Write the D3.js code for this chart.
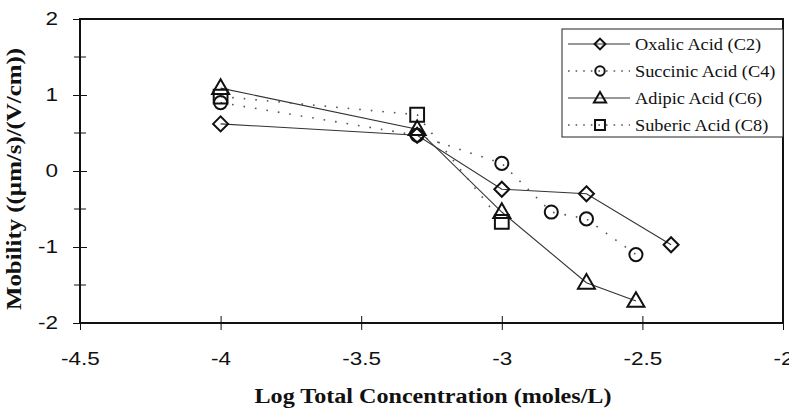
<!DOCTYPE html>
<html><head><meta charset="utf-8">
<script src="https://cdn.jsdelivr.net/npm/d3@7"></script>
<style>body{margin:0;background:#fff}svg{display:block}</style>
</head><body><svg id="c" width="789" height="410"></svg>
<script>
const xTicks = [-4.5, -4, -3.5, -3, -2.5, -2];
const yTicks = [-2, -1, 0, 1, 2];
const yMinor = [-1.5, -0.5, 0.5, 1.5];
const seriesNames = ["Oxalic Acid (C2)", "Succinic Acid (C4)", "Adipic Acid (C6)", "Suberic Acid (C8)"];
const oxalicX = [-4, -3.301, -3, -2.699, -2.398];
const oxalicY = [0.62, 0.47, -0.24, -0.30, -0.97];
const succinicX = [-4, -3.301, -3, -2.824, -2.699, -2.523];
const succinicY = [0.90, 0.47, 0.10, -0.54, -0.63, -1.10];
const adipicX = [-4, -3.301, -3, -2.699, -2.523];
const adipicY = [1.09, 0.55, -0.54, -1.47, -1.71];
const subericX = [-4, -3.301, -3];
const subericY = [0.98, 0.74, -0.67];

const series = [
  {name: seriesNames[0], xs: oxalicX, ys: oxalicY, sym: "diamond", dash: null},
  {name: seriesNames[1], xs: succinicX, ys: succinicY, sym: "circle", dash: "1.6,10"},
  {name: seriesNames[2], xs: adipicX, ys: adipicY, sym: "triangle", dash: null},
  {name: seriesNames[3], xs: subericX, ys: subericY, sym: "square", dash: "1.6,10"}
];

const L = 80, R = 783, T = 19, B = 323;
const x = d3.scaleLinear().domain([-4.5, -2]).range([L, R]);
const y = d3.scaleLinear().domain([-2, 2]).range([B, T]);
const svg = d3.select("#c");
const SANS = "Liberation Sans, Arial, sans-serif";
const SERIF = "Liberation Serif, Times New Roman, serif";

function stretch(sel, factor) {
  sel.each(function () {
    const w = this.getComputedTextLength();
    d3.select(this).attr("textLength", w * factor).attr("lengthAdjust", "spacingAndGlyphs");
  });
}

// frame
svg.append("rect").attr("x", L).attr("y", T).attr("width", R - L).attr("height", B - T)
  .attr("fill", "none").attr("stroke", "#111").attr("stroke-width", 2);

// y axis
const yAx = svg.append("g").attr("transform", `translate(${L},0)`)
  .call(d3.axisLeft(y).tickValues(yTicks).tickFormat(d => String(d)).tickSize(7).tickPadding(15));
yAx.select(".domain").remove();
yAx.selectAll(".tick line").attr("x2", 7).attr("x1", -7).attr("stroke", "#111");
yAx.selectAll("text").attr("font-family", SANS).attr("font-size", 18).attr("fill", "#111");
stretch(yAx.selectAll("text"), 1.25);
svg.append("g").selectAll("line").data(yMinor).join("line")
  .attr("x1", L - 6).attr("x2", L + 6).attr("y1", d => y(d)).attr("y2", d => y(d)).attr("stroke", "#111");

// x axis
const xAx = svg.append("g").attr("transform", `translate(0,${B})`)
  .call(d3.axisBottom(x).tickValues(xTicks).tickFormat(d => String(d)).tickSize(7).tickPadding(22));
xAx.select(".domain").remove();
xAx.selectAll(".tick line").attr("y1", -7).attr("y2", 7).attr("stroke", "#111");
xAx.selectAll("text").attr("font-family", SANS).attr("font-size", 18).attr("fill", "#111");
stretch(xAx.selectAll("text"), 1.25);

// titles
const xt = svg.append("text").attr("x", 433).attr("y", 403).attr("text-anchor", "middle")
  .attr("font-family", SERIF).attr("font-weight", "bold").attr("font-size", 20)
  .attr("fill", "#111").text("Log Total Concentration (moles/L)");
xt.attr("textLength", 357).attr("lengthAdjust", "spacingAndGlyphs");
const yt = svg.append("text").attr("transform", `translate(21,179) rotate(-90)`).attr("text-anchor", "middle")
  .attr("font-family", SERIF).attr("font-weight", "bold").attr("font-size", 20)
  .attr("fill", "#111").text("Mobility ((\u00b5m/s)/(V/cm))");
yt.attr("textLength", 262).attr("lengthAdjust", "spacingAndGlyphs");

const symSize = {circle: 135, triangle: 125, square: 190};
const symMap = {circle: d3.symbolCircle, triangle: d3.symbolTriangle, square: d3.symbolSquare};
function marker(g, sym, cx, cy, scale) {
  const k = scale || 1;
  let d;
  if (sym === "diamond") {
    const h = 7.5 * k;
    d = `M0,${-h}L${h},0L0,${h}L${-h},0Z`;
  } else {
    d = d3.symbol().type(symMap[sym]).size(symSize[sym] * k * k)();
  }
  const ty = sym === "triangle" ? cy + 1 : cy;
  g.append("path").attr("d", d).attr("transform", `translate(${cx},${ty})`)
    .attr("fill", "none").attr("stroke", "#111").attr("stroke-width", 2);
}

const line = d3.line().x(d => x(d[0])).y(d => y(d[1]));
const plot = svg.append("g");
series.forEach(s => {
  const pts = s.xs.map((v, i) => [v, s.ys[i]]);
  plot.append("path").attr("d", line(pts)).attr("fill", "none")
    .attr("stroke", s.dash ? "#555" : "#333").attr("stroke-width", s.dash ? 1.6 : 1.1)
    .attr("stroke-dasharray", s.dash);
});
series.forEach(s => {
  s.xs.forEach((v, i) => marker(plot, s.sym, x(v), y(s.ys[i])));
});

// legend
const lg = svg.append("g");
lg.append("rect").attr("x", 562).attr("y", 29).attr("width", 221).attr("height", 108)
  .attr("fill", "#fff").attr("stroke", "#222").attr("stroke-width", 1);
series.forEach((s, i) => {
  const ly = 44 + i * 27;
  lg.append("line").attr("x1", 568).attr("x2", 630).attr("y1", ly).attr("y2", ly)
    .attr("stroke", s.dash ? "#555" : "#333").attr("stroke-width", s.dash ? 1.6 : 1.1)
    .attr("stroke-dasharray", s.dash ? "1.6,6" : null);
  marker(lg, s.sym, 600, ly, 0.72);
  const t = lg.append("text").attr("x", 635).attr("y", ly + 6)
    .attr("font-family", SERIF).attr("font-size", 16.5).attr("fill", "#111")
    .text(s.name);
  stretch(t, 1.11);
});
</script></body></html>
